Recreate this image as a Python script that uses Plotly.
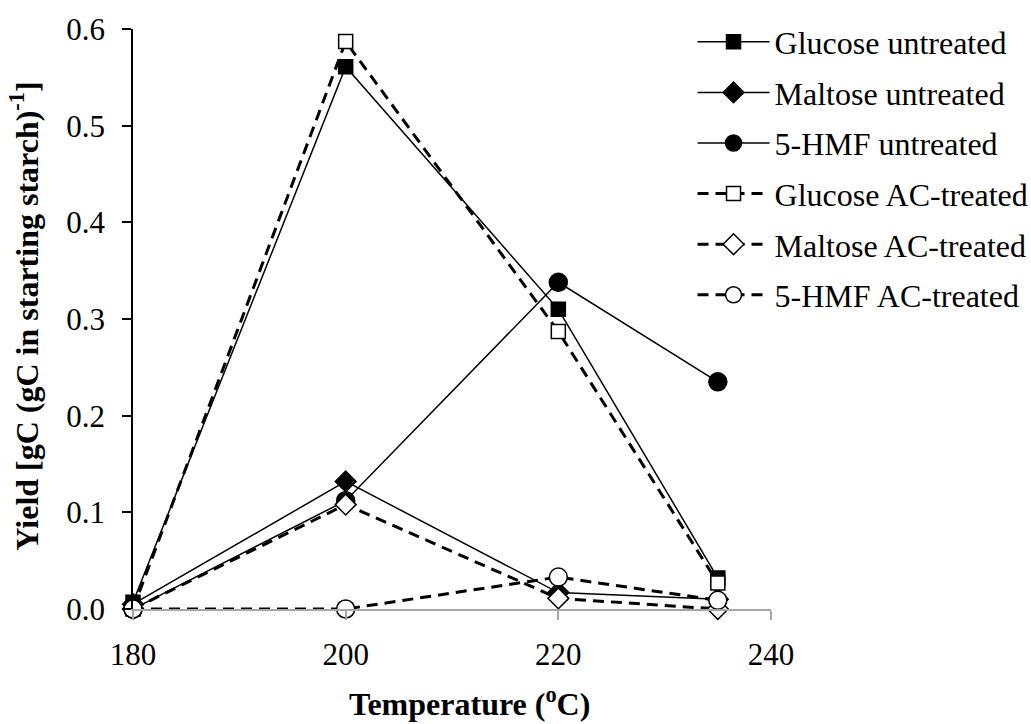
import plotly.graph_objects as go

temps = [180, 200, 220, 235]
glucose_untreated = [0.007, 0.561, 0.310, 0.032]
maltose_untreated = [0.005, 0.132, 0.017, 0.010]
hmf_untreated = [0.0, 0.112, 0.338, 0.235]
glucose_ac = [0.0, 0.587, 0.287, 0.027]
maltose_ac = [0.0, 0.108, 0.011, 0.0]
hmf_ac = [0.0, 0.0, 0.033, 0.009]

x_ticks = [180, 200, 220, 240]
y_ticks = [0, 0.1, 0.2, 0.3, 0.4, 0.5, 0.6]

series = [
    ("Glucose untreated", glucose_untreated, "square", "black", "solid"),
    ("Maltose untreated", maltose_untreated, "diamond", "black", "solid"),
    ("5-HMF untreated", hmf_untreated, "circle", "black", "solid"),
    ("Glucose AC-treated", glucose_ac, "square", "white", "dash"),
    ("Maltose AC-treated", maltose_ac, "diamond", "white", "dash"),
    ("5-HMF AC-treated", hmf_ac, "circle", "white", "dash"),
]

FONT = "Liberation Serif"
fig = go.Figure()
for i, (name, vals, sym, fill, style) in enumerate(series):
    solid = style == "solid"
    size = {"square": 14, "diamond": 16, "circle": 18}[sym]
    fig.add_trace(go.Scatter(
        x=temps, y=vals, name=name, mode="lines+markers",
        legendgroup=f"g{i}",
        line=dict(color="black", width=1.5 if solid else 3,
                  dash="solid" if solid else "11px,7px"),
        marker=dict(symbol=sym, size=size, color=fill,
                    line=dict(color="black", width=1.5)),
        cliponaxis=False,
    ))

fig.update_layout(
    width=1031, height=724,
    margin=dict(l=133, r=260, t=29, b=115, autoexpand=False),
    paper_bgcolor="white", plot_bgcolor="white",
    font=dict(family=FONT, size=31, color="black"),
    showlegend=True,
    legend=dict(x=0.877, y=1.025, xanchor="left", yanchor="top",
                font=dict(family=FONT, size=32, color="black"),
                bgcolor="rgba(0,0,0,0)", tracegroupgap=6, itemwidth=72),
    xaxis=dict(
        range=[180, 240], tickvals=x_ticks,
        showline=True, linecolor="#a6a6a6", linewidth=1.5,
        ticks="outside", ticklen=9, tickcolor="#a6a6a6", tickwidth=1.5,
        showgrid=False, zeroline=False, ticklabelstandoff=8,
        tickfont=dict(family=FONT, size=31),
    ),
    yaxis=dict(
        range=[0, 0.6], tickvals=y_ticks,
        tickformat=".1f",
        showline=True, linecolor="black", linewidth=1.5,
        ticks="outside", ticklen=9, tickcolor="black", tickwidth=1.5,
        showgrid=False, zeroline=False, ticklabelstandoff=11,
        tickfont=dict(family=FONT, size=31),
    ),
    annotations=[
        dict(text="<b>Temperature (<sup>o</sup>C)</b>", xref="paper", yref="paper",
             x=0.528, y=-0.160, xanchor="center", yanchor="middle",
             showarrow=False, font=dict(family=FONT, size=32)),
        dict(text="<b>Yield [gC (gC in starting starch)<sup>-1</sup>]</b>",
             xref="paper", yref="paper", x=-0.170, y=0.505, textangle=-90,
             xanchor="center", yanchor="middle",
             showarrow=False, font=dict(family=FONT, size=32)),
    ],
)

fig.write_html("out.html")
